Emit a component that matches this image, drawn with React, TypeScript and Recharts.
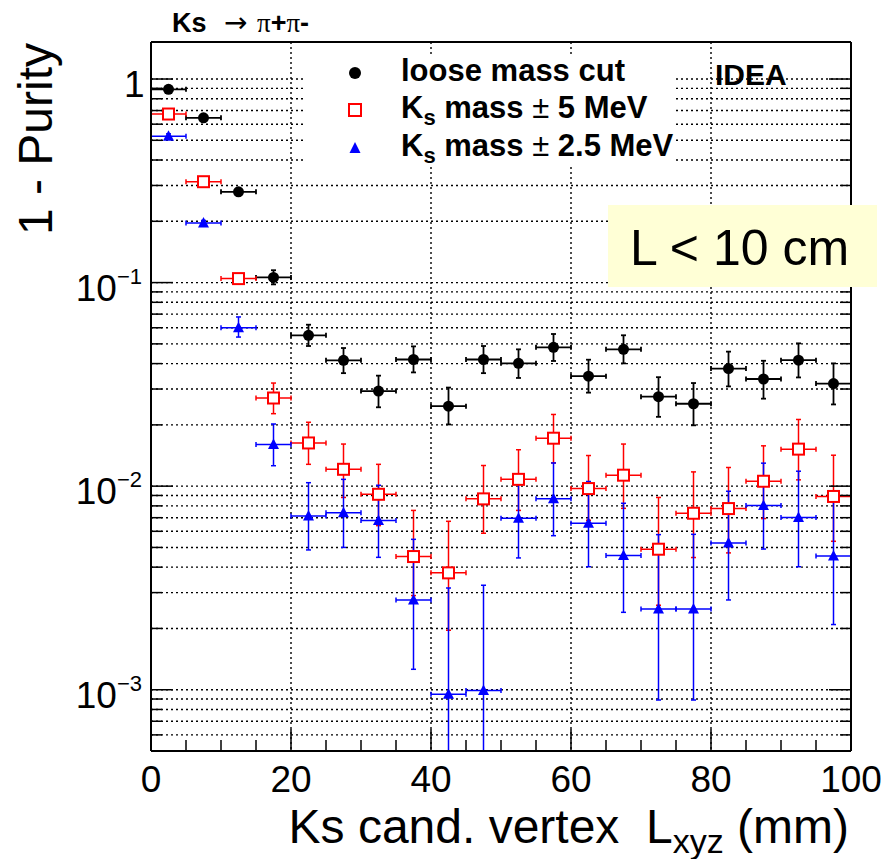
import React from 'react';
import { ComposedChart, Scatter, XAxis, YAxis, CartesianGrid, ErrorBar } from 'recharts';

// bin centres (mm), every bin is 5 mm wide
const binCenters = [2.5, 7.5, 12.5, 17.5, 22.5, 27.5, 32.5, 37.5, 42.5, 47.5, 52.5, 57.5, 62.5, 67.5, 72.5, 77.5, 82.5, 87.5, 92.5, 97.5];
const binHalfWidth = 2.5;

// loose mass cut
const looseVal = [0.89, 0.645, 0.279, 0.106, 0.0551, 0.0415, 0.0293, 0.0419, 0.0247, 0.0419, 0.0401, 0.0481, 0.0347, 0.047, 0.0275, 0.0254, 0.0378, 0.0336, 0.0416, 0.0319];
const looseLo = [0.87, 0.63, 0.27, 0.098, 0.0488, 0.0359, 0.0244, 0.0362, 0.0201, 0.0359, 0.034, 0.0412, 0.0288, 0.0401, 0.0219, 0.0199, 0.0309, 0.0269, 0.0342, 0.0252];
const looseHi = [0.91, 0.66, 0.29, 0.115, 0.0621, 0.0477, 0.0349, 0.0486, 0.0305, 0.0488, 0.047, 0.0559, 0.0418, 0.0551, 0.0343, 0.0321, 0.0458, 0.0413, 0.0503, 0.0401];

// Ks mass +- 5 MeV
const m5Val = [0.673, 0.313, 0.1046, 0.0271, 0.0163, 0.0121, 0.00912, 0.00451, 0.00375, 0.00866, 0.0108, 0.0172, 0.00973, 0.01132, 0.0049, 0.00736, 0.00776, 0.01057, 0.0152, 0.0089];
const m5Lo = [0.66, 0.3, 0.1, 0.0227, 0.0128, 0.0088, 0.0064, 0.0029, 0.00196, 0.00587, 0.0076, 0.013, 0.0068, 0.00778, 0.0026, 0.00446, 0.0047, 0.00693, 0.01074, 0.00536];
const m5Hi = [0.686, 0.326, 0.109, 0.0321, 0.0206, 0.0161, 0.0128, 0.0076, 0.00672, 0.01263, 0.0151, 0.0225, 0.01414, 0.0161, 0.0088, 0.01175, 0.01235, 0.01578, 0.02126, 0.01419];

// Ks mass +- 2.5 MeV
const m25Val = [0.524, 0.196, 0.06, 0.016, 0.00714, 0.0074, 0.00678, 0.00276, 0.00095, 0.00099, 0.00695, 0.00866, 0.00657, 0.00456, 0.00249, 0.00249, 0.00526, 0.00803, 0.00701, 0.00454];
const m25Lo = [0.51, 0.19, 0.054, 0.0126, 0.00486, 0.005, 0.00447, 0.00126, 0.0005, 0.0005, 0.00444, 0.00571, 0.00402, 0.0024, 0.00089, 0.00089, 0.00276, 0.00491, 0.00402, 0.00209];
const m25Hi = [0.538, 0.202, 0.0678, 0.0202, 0.0104, 0.0108, 0.0101, 0.00548, 0.00316, 0.00326, 0.01074, 0.013, 0.01054, 0.00824, 0.00578, 0.0058, 0.00944, 0.01297, 0.01184, 0.009];

// axes
const xTicks = [0, 5, 10, 15, 20, 25, 30, 35, 40, 45, 50, 55, 60, 65, 70, 75, 80, 85, 90, 95, 100];
const xMajor = [0, 20, 40, 60, 80, 100];
const xGrid = [20, 40, 60, 80];
const yTicks = [
  0.0005, 0.0006, 0.0007, 0.0008, 0.0009,
  0.001, 0.002, 0.003, 0.004, 0.005, 0.006, 0.007, 0.008, 0.009,
  0.01, 0.02, 0.03, 0.04, 0.05, 0.06, 0.07, 0.08, 0.09,
  0.1, 0.2, 0.3, 0.4, 0.5, 0.6, 0.7, 0.8, 0.9, 1,
];
const yMajor = [0.001, 0.01, 0.1, 1];
const yMajorBase = ['10', '10', '10', '1'];
const yMajorExp = ['\u22123', '\u22122', '\u22121', ''];

const FONT = "'Liberation Sans', Arial, Helvetica, sans-serif";
const SERIF = "'Liberation Serif', 'DejaVu Serif', serif";

const buildSeries = (val: number[], lo: number[], hi: number[]) =>
  binCenters.map((x, i) => ({
    x,
    y: val[i],
    ey: [val[i] - lo[i], hi[i] - val[i]],
    ex: binHalfWidth,
  }));

const looseData = buildSeries(looseVal, looseLo, looseHi);
const m5Data = buildSeries(m5Val, m5Lo, m5Hi);
const m25Data = buildSeries(m25Val, m25Lo, m25Hi);

// markers
const Dot = (p: any) => <circle cx={p.cx} cy={p.cy} r={5.5} fill="#000" />;
const OpenSquare = (p: any) => (
  <rect x={p.cx - 5.5} y={p.cy - 5.5} width={11} height={11} fill="#fff" stroke="#ff0000" strokeWidth={2} />
);
const Tri = (p: any) => (
  <polygon points={`${p.cx},${p.cy - 6} ${p.cx - 5.5},${p.cy + 4.5} ${p.cx + 5.5},${p.cy + 4.5}`} fill="#0000ff" />
);

// ticks point inwards, like ROOT
const BottomTick = ({ x, y, payload }: any) => {
  const major = xMajor.includes(payload.value);
  return (
    <g>
      <line x1={x} x2={x} y1={y} y2={y - (major ? 22 : 11)} stroke="#000" strokeWidth={1.5} />
      {major && (
        <text x={x} y={y + 41} textAnchor="middle" fontSize={37} fontFamily={FONT} fill="#000">
          {payload.value}
        </text>
      )}
    </g>
  );
};

const TopTick = ({ x, y, payload }: any) => {
  const major = xMajor.includes(payload.value);
  return <line x1={x} x2={x} y1={y} y2={y + (major ? 22 : 11)} stroke="#000" strokeWidth={1.5} />;
};

const LeftTick = ({ x, y, payload }: any) => {
  const k = yMajor.indexOf(payload.value);
  const major = k >= 0;
  let label = null;
  if (major && yMajorExp[k] === '') {
    // plain "1": start-anchored so its glyph sits just left of the frame
    label = (
      <text x={x - 27} y={y + 18} textAnchor="start" fontSize={37} fontFamily={FONT} fill="#000">
        {yMajorBase[k]}
      </text>
    );
  } else if (major) {
    label = (
      <text x={x - 9} y={y + 18} textAnchor="end" fontSize={37} fontFamily={FONT} fill="#000">
        {yMajorBase[k]}
        <tspan dy={-17} fontSize={22}>
          {yMajorExp[k]}
        </tspan>
      </text>
    );
  }
  return (
    <g>
      <line x1={x} x2={x + (major ? 22 : 11)} y1={y} y2={y} stroke="#000" strokeWidth={1.5} />
      {label}
    </g>
  );
};

const RightTick = ({ x, y, payload }: any) => {
  const major = yMajor.includes(payload.value);
  return <line x1={x} x2={x - (major ? 22 : 11)} y1={y} y2={y} stroke="#000" strokeWidth={1.5} />;
};

const frame = { stroke: '#000', strokeWidth: 2 };

export default function App() {
  return (
    <div style={{ position: 'absolute', left: 0, top: 0, width: 888, height: 859, background: '#fff' }}>
      <ComposedChart width={888} height={859} margin={{ top: 41, right: 36, bottom: 107, left: 150 }}>
        <CartesianGrid stroke="#000" strokeDasharray="2 3" strokeWidth={1.4} verticalValues={xGrid} fill="none" />
        <XAxis
          dataKey="x"
          type="number"
          domain={[0, 100]}
          ticks={xTicks}
          interval={0}
          height={1}
          tickSize={0}
          tickMargin={0}
          tick={<BottomTick />}
          tickLine={false}
          axisLine={frame}
          allowDataOverflow
        />
        <XAxis
          xAxisId="top"
          orientation="top"
          type="number"
          domain={[0, 100]}
          ticks={xTicks}
          interval={0}
          height={1}
          tickSize={0}
          tickMargin={0}
          tick={<TopTick />}
          tickLine={false}
          axisLine={frame}
          allowDataOverflow
        />
        <YAxis
          dataKey="y"
          type="number"
          scale="log"
          domain={[0.0005, 1.52]}
          ticks={yTicks}
          interval={0}
          width={1}
          tickSize={0}
          tickMargin={0}
          tick={<LeftTick />}
          tickLine={false}
          axisLine={frame}
          allowDataOverflow
        />
        <YAxis
          yAxisId="right"
          orientation="right"
          type="number"
          scale="log"
          domain={[0.0005, 1.52]}
          ticks={yTicks}
          interval={0}
          width={1}
          tickSize={0}
          tickMargin={0}
          tick={<RightTick />}
          tickLine={false}
          axisLine={frame}
          allowDataOverflow
        />
        <Scatter data={looseData} shape={Dot} isAnimationActive={false}>
          <ErrorBar dataKey="ey" direction="y" width={2.5} stroke="#000" strokeWidth={1.8} />
          <ErrorBar dataKey="ex" direction="x" width={2.5} stroke="#000" strokeWidth={1.8} />
        </Scatter>
        <Scatter data={m5Data} shape={OpenSquare} isAnimationActive={false}>
          <ErrorBar dataKey="ey" direction="y" width={2.5} stroke="#ff0000" strokeWidth={1.5} />
          <ErrorBar dataKey="ex" direction="x" width={2.5} stroke="#ff0000" strokeWidth={1.5} />
        </Scatter>
        <Scatter data={m25Data} shape={Tri} isAnimationActive={false}>
          <ErrorBar dataKey="ey" direction="y" width={2.5} stroke="#0000ff" strokeWidth={1.5} />
          <ErrorBar dataKey="ex" direction="x" width={2.5} stroke="#0000ff" strokeWidth={1.5} />
        </Scatter>
      </ComposedChart>

      {/* labels, legend and boxes drawn on top of the plot */}
      <svg width={888} height={859} style={{ position: 'absolute', left: 0, top: 0, pointerEvents: 'none' }}>
        <text y={32} fontFamily={FONT} fontSize={27} fill="#000">
          <tspan x={172} fontWeight="bold">Ks</tspan>
          <tspan x={224} fontFamily="'DejaVu Sans', sans-serif" fontSize={28}>{'\u2192'}</tspan>
          <tspan x={257} fontFamily={SERIF}>{'\u03c0'}</tspan>
          <tspan fontWeight="bold">+</tspan>
          <tspan fontFamily={SERIF}>{'\u03c0'}</tspan>
          <tspan fontWeight="bold">-</tspan>
        </text>

        <text
          transform="translate(52,43) rotate(-90)"
          textAnchor="end"
          fontFamily={FONT}
          fontSize={48}
          fill="#000"
        >
          1 - Purity
        </text>

        <text x={849} y={843} textAnchor="end" fontFamily={FONT} fontSize={48} fill="#000" style={{ whiteSpace: 'pre' }}>
          {'Ks cand. vertex  L'}
          <tspan fontSize={34} dy={10}>xyz</tspan>
          <tspan dy={-10}>{' (mm)'}</tspan>
        </text>

        {/* legend */}
        <rect x={306} y={55} width={370} height={110} fill="#fff" />
        <circle cx={355} cy={73} r={6} fill="#000" />
        <rect x={349} y={104} width={12} height={12} fill="#fff" stroke="#ff0000" strokeWidth={2} />
        <polygon points="355,142 349.5,153 360.5,153" fill="#0000ff" />
        <g fontFamily={FONT} fontSize={31} fontWeight="bold" fill="#000">
          <text x={401} y={81}>loose mass cut</text>
          <text x={401} y={118} style={{ whiteSpace: 'pre' }}>
            K<tspan fontSize={22} dy={7}>s</tspan>
            <tspan dy={-7}>{' mass '}</tspan>
            <tspan fontWeight="normal">{'\u00b1'}</tspan>
            <tspan>{' 5 MeV'}</tspan>
          </text>
          <text x={401} y={156} style={{ whiteSpace: 'pre' }}>
            K<tspan fontSize={22} dy={7}>s</tspan>
            <tspan dy={-7}>{' mass '}</tspan>
            <tspan fontWeight="normal">{'\u00b1'}</tspan>
            <tspan>{' 2.5 MeV'}</tspan>
          </text>
        </g>

        <text x={715} y={85} fontFamily={FONT} fontSize={30} fontWeight="bold" fill="#000">IDEA</text>

        <rect x={608} y={205} width={269} height={82} fill="#ffffd6" />
        <text x={630} y={265} fontFamily={FONT} fontSize={50} fill="#000">L &lt; 10 cm</text>
      </svg>
    </div>
  );
}
